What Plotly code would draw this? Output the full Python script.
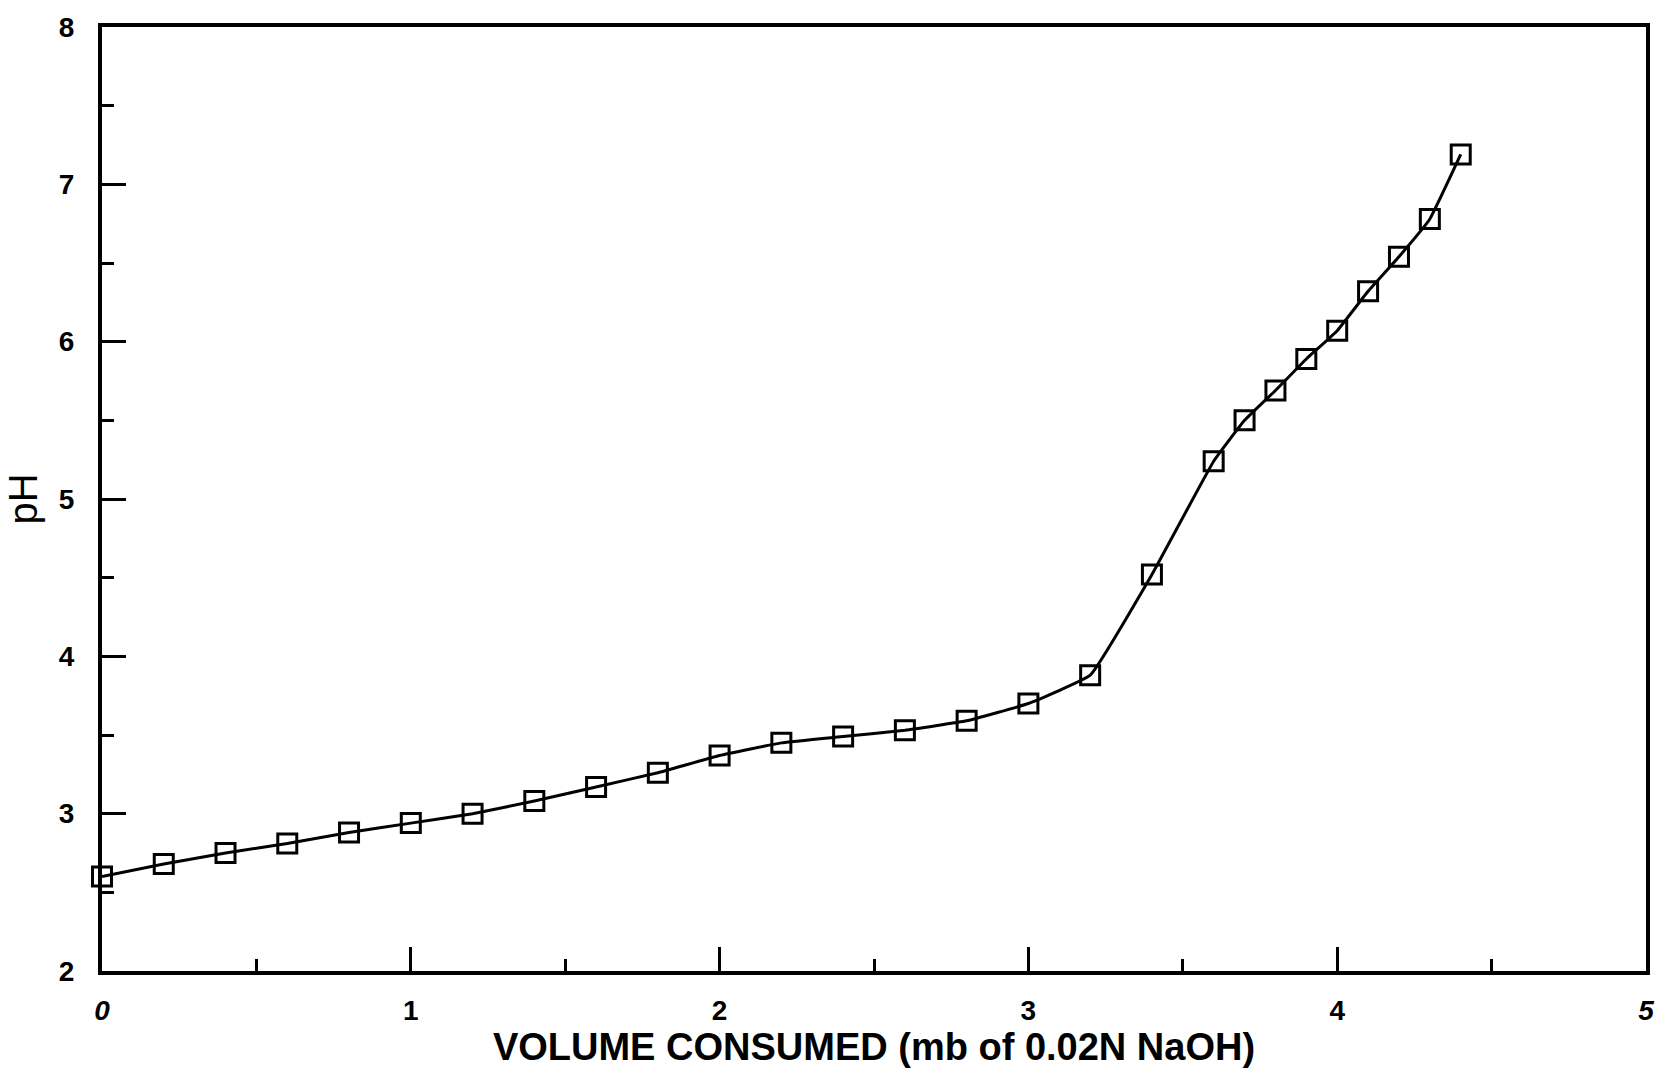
import plotly.graph_objects as go

# Titration data: volume of 0.02N NaOH added vs. measured pH
volume_ml = [0.0, 0.2, 0.4, 0.6, 0.8, 1.0, 1.2, 1.4, 1.6, 1.8, 2.0, 2.2, 2.4, 2.6,
             2.8, 3.0, 3.2, 3.4, 3.6, 3.7, 3.8, 3.9, 4.0, 4.1, 4.2, 4.3, 4.4]
ph_values = [2.60, 2.68, 2.75, 2.81, 2.88, 2.94, 3.00, 3.08, 3.17, 3.26, 3.37, 3.45,
             3.49, 3.53, 3.59, 3.70, 3.88, 4.52, 5.24, 5.50, 5.69, 5.89, 6.07, 6.32,
             6.54, 6.78, 7.19]

x_tick_vals = [0, 1, 2, 3, 4, 5]
x_tick_text = ["<i>0</i>", "1", "2", "3", "4", "<i>5</i>"]
y_tick_vals = [2, 3, 4, 5, 6, 7, 8]
y_tick_text = ["2", "3", "4", "5", "6", "7", "8"]

FONT = "Liberation Sans, Arial, sans-serif"

fig = go.Figure()
fig.add_trace(go.Scatter(
    x=volume_ml,
    y=ph_values,
    mode="lines+markers",
    line=dict(color="black", width=3, shape="spline", smoothing=0.3),
    marker=dict(symbol="square-open", size=19, color="black",
                line=dict(color="black", width=3)),
    cliponaxis=False,
    showlegend=False,
))

fig.update_layout(
    width=1666,
    height=1078,
    margin=dict(l=102, r=15, t=20, b=107),
    paper_bgcolor="white",
    plot_bgcolor="white",
    font=dict(family=FONT, color="black"),
)

fig.update_xaxes(
    range=[0, 5],
    tickvals=x_tick_vals,
    ticktext=x_tick_text,
    tickfont=dict(family=FONT, size=28, weight="bold", color="black"),
    ticks="inside",
    ticklen=24,
    tickwidth=3,
    tickcolor="black",
    ticklabelstandoff=11,
    minor=dict(dtick=0.5, ticks="inside", ticklen=12, tickwidth=3, tickcolor="black"),
    showline=True,
    linecolor="black",
    linewidth=4,
    mirror=True,
    showgrid=False,
    zeroline=False,
    title=dict(
        text="VOLUME CONSUMED (mb of 0.02N NaOH)",
        font=dict(family=FONT, size=38, weight="bold", color="black"),
        standoff=2,
    ),
)

fig.update_yaxes(
    range=[2, 8],
    tickvals=y_tick_vals,
    ticktext=y_tick_text,
    tickfont=dict(family=FONT, size=28, weight="bold", color="black"),
    ticks="inside",
    ticklen=24,
    tickwidth=3,
    tickcolor="black",
    ticklabelstandoff=18,
    minor=dict(dtick=0.5, ticks="inside", ticklen=12, tickwidth=3, tickcolor="black"),
    showline=True,
    linecolor="black",
    linewidth=4,
    mirror=True,
    showgrid=False,
    zeroline=False,
    title=dict(
        text="pH",
        font=dict(family=FONT, size=40, color="black"),
        standoff=10,
    ),
)

fig.write_html("out.html")
